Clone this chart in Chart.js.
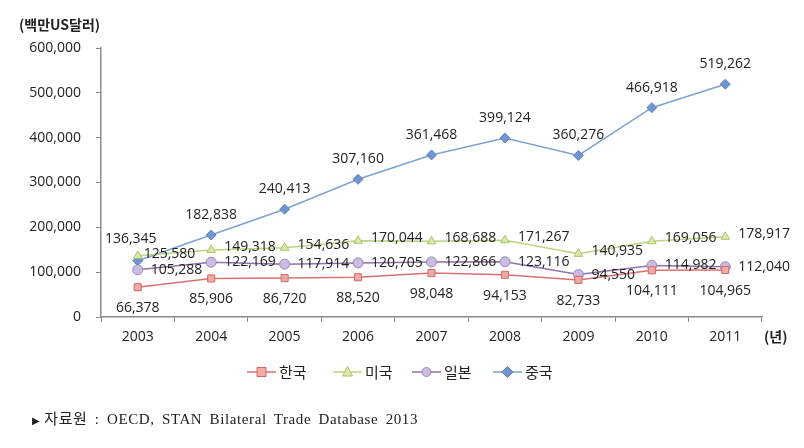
<!DOCTYPE html>
<html>
<head>
<meta charset="utf-8">
<script src="https://cdn.jsdelivr.net/npm/chart.js@4/dist/chart.umd.min.js"></script>
<style>
  body { margin: 0; background: #fff; }
  #wrap { position: relative; width: 804px; height: 448px; }
  #note {
    position: absolute; left: 32px; top: 407px;
    font: 15px "Liberation Serif", "DejaVu Serif", "Noto Sans CJK KR", serif;
    letter-spacing: 0.6px; word-spacing: 3px;
    color: #222; white-space: nowrap;
  }
  #note .tri { font-size: 10px; margin-right: 4px; }
</style>
</head>
<body>
<div id="wrap">
  <canvas id="c" width="804" height="448"></canvas>
  <div id="note"><span class="tri">▶</span>자료원 : OECD, STAN Bilateral Trade Database 2013</div>
</div>
<script>
const years = ["2003", "2004", "2005", "2006", "2007", "2008", "2009", "2010", "2011"];
const korea = [66378, 85906, 86720, 88520, 98048, 94153, 82733, 104111, 104965];
const usa   = [136345, 149318, 154636, 170044, 168688, 171267, 140935, 169056, 178917];
const japan = [105288, 122169, 117914, 120705, 122866, 123116, 94550, 114982, 112040];
const china = [125580, 182838, 240413, 307160, 361468, 399124, 360276, 466918, 519262];
const yTicks = [0, 100000, 200000, 300000, 400000, 500000, 600000];

const numFont = '14px "Open Sans", "Noto Sans CJK KR", sans-serif';
const fmt = v => v.toLocaleString("en-US");

// label placement per series: [align, dx, dy]
const labelPos = {
  "한국": i => ["center", 0, 21],
  "미국": i => i === 0 ? ["center", -7, -17] : ["left", 13, -3],
  "일본": i => ["left", 13, 0],
  "중국": i => i === 0 ? ["left", 6, -7] : ["center", 0, -20]
};

function drawMarker(ctx, style, x, y, r) {
  if (style === "rect") {
    ctx.rect(x - r, y - r, 2 * r, 2 * r);
  } else if (style === "triangle") {
    ctx.moveTo(x, y - r - 1);
    ctx.lineTo(x + r + 0.5, y + r - 0.5);
    ctx.lineTo(x - r - 0.5, y + r - 0.5);
    ctx.closePath();
  } else if (style === "circle") {
    ctx.arc(x, y, r, 0, Math.PI * 2);
  } else {
    ctx.moveTo(x, y - r - 1);
    ctx.lineTo(x + r + 1, y);
    ctx.lineTo(x, y + r + 1);
    ctx.lineTo(x - r - 1, y);
    ctx.closePath();
  }
}

const extras = {
  id: "extras",
  afterDatasetsDraw(chart) {
    const ctx = chart.ctx;
    ctx.save();
    ctx.font = numFont;
    ctx.fillStyle = "#222";
    ctx.textBaseline = "middle";
    chart.data.datasets.forEach((ds, di) => {
      const meta = chart.getDatasetMeta(di);
      meta.data.forEach((pt, i) => {
        const [al, dx, dy] = labelPos[ds.label](i);
        ctx.textAlign = al;
        ctx.fillText(fmt(ds.data[i]), pt.x + dx, pt.y + dy);
      });
    });

    // axis titles
    ctx.font = 'bold 14px "Noto Sans CJK KR", sans-serif';
    ctx.textAlign = "left";
    ctx.fillText("(백만US달러)", 19, 25);
    ctx.fillText("(년)", 764, 337);

    // legend: line + marker + text
    const items = [[247, 0], [333, 1], [412, 2], [493, 3]];
    const ly = 372;
    items.forEach(([x, di]) => {
      const ds = chart.data.datasets[di];
      ctx.strokeStyle = ds.borderColor;
      ctx.lineWidth = 1.5;
      ctx.beginPath();
      ctx.moveTo(x, ly);
      ctx.lineTo(x + 29, ly);
      ctx.stroke();
      ctx.lineWidth = 1;
      ctx.fillStyle = ds.pointBackgroundColor;
      ctx.strokeStyle = ds.pointBorderColor;
      ctx.beginPath();
      drawMarker(ctx, ds.pointStyle, x + 14.5, ly, 4.5);
      ctx.fill();
      ctx.stroke();
      ctx.fillStyle = "#222";
      ctx.font = '15px "Noto Sans CJK KR", sans-serif';
      ctx.fillText(ds.label, x + 32, ly);
    });
    ctx.restore();
  }
};

function series(label, data, line, fill, border, style) {
  return {
    label, data,
    borderColor: line,
    borderWidth: 1.5,
    pointStyle: style,
    pointRadius: 5,
    pointBackgroundColor: fill,
    pointBorderColor: border,
    pointBorderWidth: 1,
    tension: 0
  };
}

new Chart(document.getElementById("c"), {
  type: "line",
  data: {
    labels: years,
    datasets: [
      series("한국", korea, "#d9726e", "#f2aaa6", "#d06a66", "rect"),
      series("미국", usa, "#bcd37f", "#dbe7ae", "#a9c366", "triangle"),
      series("일본", japan, "#8c74ad", "#cbbde2", "#9a86bb", "circle"),
      series("중국", china, "#7ea2d1", "#7196cf", "#5f83c0", "rectRot")
    ]
  },
  options: {
    responsive: false,
    animation: false,
    layout: { padding: { left: 0, right: 42, top: 48, bottom: 101 } },
    plugins: { legend: { display: false }, tooltip: { enabled: false } },
    scales: {
      x: {
        offset: true,
        grid: { offset: true, drawOnChartArea: false, tickLength: 5, color: "#8a8a8a" },
        border: { color: "#8a8a8a", width: 1.5 },
        ticks: { color: "#222", font: { family: '"Open Sans", sans-serif', size: 14 }, padding: 7 },
        afterFit: s => { s.height = 30; }
      },
      y: {
        min: 0, max: 600000,
        afterBuildTicks: s => { s.ticks = yTicks.map(v => ({ value: v })); },
        grid: { drawOnChartArea: false, tickLength: 5, color: "#8a8a8a" },
        border: { color: "#8a8a8a", width: 1.5 },
        ticks: {
          color: "#222", padding: 15,
          font: { family: '"Open Sans", sans-serif', size: 14 },
          callback: v => fmt(v)
        },
        afterFit: s => { s.width = 101; }
      }
    }
  },
  plugins: [extras]
});
</script>
</body>
</html>
